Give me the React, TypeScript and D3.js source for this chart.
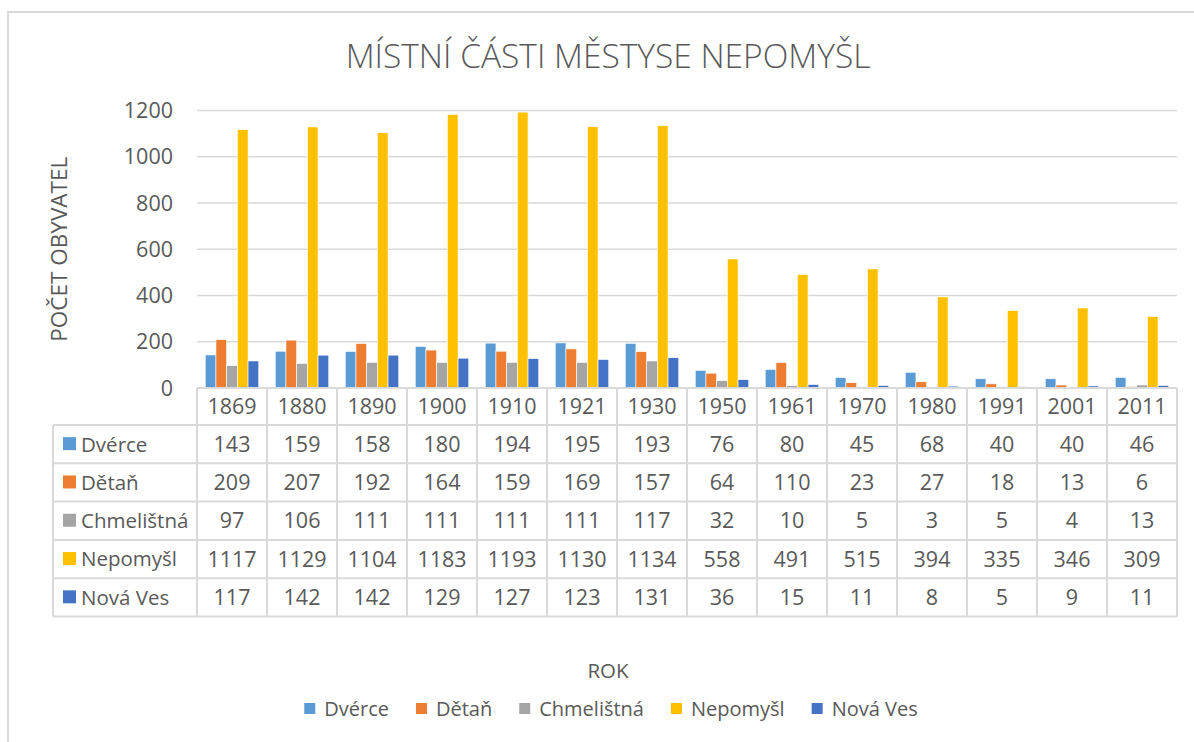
import { useEffect, useRef } from "react";
import * as d3 from "d3";

// data
const years = ["1869", "1880", "1890", "1900", "1910", "1921", "1930", "1950", "1961", "1970", "1980", "1991", "2001", "2011"];
const seriesNames = ["Dvérce", "Dětaň", "Chmelištná", "Nepomyšl", "Nová Ves"];
const dvirce = [143, 159, 158, 180, 194, 195, 193, 76, 80, 45, 68, 40, 40, 46];
const detan = [209, 207, 192, 164, 159, 169, 157, 64, 110, 23, 27, 18, 13, 6];
const chmelistna = [97, 106, 111, 111, 111, 111, 117, 32, 10, 5, 3, 5, 4, 13];
const nepomysl = [1117, 1129, 1104, 1183, 1193, 1130, 1134, 558, 491, 515, 394, 335, 346, 309];
const novaVes = [117, 142, 142, 129, 127, 123, 131, 36, 15, 11, 8, 5, 9, 11];
const yTicks = [0, 200, 400, 600, 800, 1000, 1200];
const colors = ["#5B9BD5", "#ED7D31", "#A5A5A5", "#FFC000", "#4472C4"];

const seriesValues = [dvirce, detan, chmelistna, nepomysl, novaVes];

const App = () => {
  const svgRef = useRef<SVGSVGElement>(null);

  useEffect(() => {
    const width = 1194;
    const height = 742;
    const font = "'Open Sans', sans-serif";
    const textColor = "#595959";
    const lineColor = "#D9D9D9";
    const plot = { left: 197, right: 1177, top: 110.5, bottom: 388 };
    const rowH = 38.3;
    const headerBottom = 425;
    const labelLeft = 53;
    const numSize = 21.5;
    const labelSize = 20.5;

    const svg = d3.select(svgRef.current)
      .attr("width", width)
      .attr("height", height)
      .style("background", "#fff");
    svg.selectAll("*").remove();

    // outer chart border
    svg.append("rect")
      .attr("x", 8).attr("y", 12)
      .attr("width", 1210).attr("height", 760)
      .attr("fill", "none").attr("stroke", lineColor).attr("stroke-width", 2);

    svg.append("text")
      .attr("x", 608).attr("y", 68)
      .attr("text-anchor", "middle")
      .attr("font-family", font).attr("font-size", 33.5).attr("font-weight", 300)
      .attr("fill", textColor)
      .text("MÍSTNÍ ČÁSTI MĚSTYSE NEPOMYŠL");

    const x = d3.scaleBand<string>().domain(years).range([plot.left, plot.right]).padding(0);
    const xInner = d3.scaleBand<number>()
      .domain(d3.range(seriesNames.length))
      .range([8.25, x.bandwidth() - 8.25])
      .padding(0);
    const y = d3.scaleLinear().domain([0, 1200]).range([plot.bottom, plot.top]);

    // gridlines
    svg.append("g")
      .selectAll("line")
      .data(yTicks.filter((t) => t > 0))
      .join("line")
      .attr("x1", plot.left).attr("x2", plot.right)
      .attr("y1", (d) => y(d)).attr("y2", (d) => y(d))
      .attr("stroke", lineColor).attr("stroke-width", 1.5);

    // y tick labels
    svg.append("g")
      .selectAll("text")
      .data(yTicks)
      .join("text")
      .attr("x", 173).attr("y", (d) => y(d))
      .attr("dy", "0.35em")
      .attr("text-anchor", "end")
      .attr("font-family", font).attr("font-size", numSize)
      .attr("fill", textColor)
      .text((d) => d);

    svg.append("text")
      .attr("transform", `translate(67,${(plot.top + plot.bottom) / 2}) rotate(-90)`)
      .attr("text-anchor", "middle")
      .attr("font-family", font).attr("font-size", 22.5)
      .attr("fill", textColor)
      .text("POČET OBYVATEL");

    // bars
    const bars = svg.append("g");
    seriesValues.forEach((vals, si) => {
      bars.append("g")
        .selectAll("rect")
        .data(vals)
        .join("rect")
        .attr("x", (_, i) => (x(years[i]) ?? 0) + (xInner(si) ?? 0))
        .attr("y", (d) => y(d))
        .attr("width", xInner.bandwidth())
        .attr("height", (d) => y(0) - y(d))
        .attr("fill", colors[si])
        .attr("stroke", "#fff").attr("stroke-width", 0.6);
    });

    // data table
    const table = svg.append("g")
      .attr("stroke", lineColor).attr("stroke-width", 2).attr("fill", "none");
    const tableBottom = headerBottom + rowH * seriesNames.length;
    table.append("line")
      .attr("x1", plot.left).attr("x2", plot.right)
      .attr("y1", plot.bottom).attr("y2", plot.bottom);
    d3.range(seriesNames.length + 1).forEach((r) => {
      const yy = headerBottom + r * rowH;
      table.append("line")
        .attr("x1", labelLeft).attr("x2", plot.right)
        .attr("y1", yy).attr("y2", yy);
    });
    table.append("line")
      .attr("x1", labelLeft).attr("x2", labelLeft)
      .attr("y1", headerBottom).attr("y2", tableBottom);
    table.selectAll("line.col")
      .data([...years, "end"])
      .join("line")
      .attr("class", "col")
      .attr("x1", (d) => (d === "end" ? plot.right : x(d) ?? 0))
      .attr("x2", (d) => (d === "end" ? plot.right : x(d) ?? 0))
      .attr("y1", plot.bottom).attr("y2", tableBottom);

    svg.append("g")
      .selectAll("text")
      .data(years)
      .join("text")
      .attr("x", (d) => (x(d) ?? 0) + x.bandwidth() / 2)
      .attr("y", (plot.bottom + headerBottom) / 2)
      .attr("dy", "0.36em")
      .attr("text-anchor", "middle")
      .attr("font-family", font).attr("font-size", numSize)
      .attr("fill", textColor)
      .text((d) => d);

    seriesValues.forEach((vals, si) => {
      const cy = headerBottom + rowH * si + rowH / 2;
      const row = svg.append("g");
      row.append("rect")
        .attr("x", 63).attr("y", cy - 7)
        .attr("width", 13).attr("height", 13)
        .attr("fill", colors[si]);
      row.append("text")
        .attr("x", 81).attr("y", cy).attr("dy", "0.36em")
        .attr("font-family", font).attr("font-size", labelSize)
        .attr("fill", textColor)
        .text(seriesNames[si]);
      row.selectAll("text.v")
        .data(vals)
        .join("text")
        .attr("class", "v")
        .attr("x", (_, i) => (x(years[i]) ?? 0) + x.bandwidth() / 2)
        .attr("y", cy).attr("dy", "0.36em")
        .attr("text-anchor", "middle")
        .attr("font-family", font).attr("font-size", numSize)
        .attr("fill", textColor)
        .text((d) => d);
    });

    svg.append("text")
      .attr("x", 608).attr("y", 678)
      .attr("text-anchor", "middle")
      .attr("font-family", font).attr("font-size", 20.5)
      .attr("fill", textColor)
      .text("ROK");

    // legend, centred under the chart
    const legend = svg.append("g");
    let cursor = 0;
    seriesNames.forEach((name, si) => {
      const item = legend.append("g").attr("transform", `translate(${cursor},0)`);
      item.append("rect")
        .attr("x", 0).attr("y", -6)
        .attr("width", 11).attr("height", 11)
        .attr("fill", colors[si]);
      const t = item.append("text")
        .attr("x", 20).attr("dy", "0.36em")
        .attr("font-family", font).attr("font-size", 20)
        .attr("fill", textColor)
        .text(name);
      const w = (t.node() as SVGTextElement).getComputedTextLength();
      cursor += 20 + w + 27;
    });
    const legendW = cursor - 27;
    legend.attr("transform", `translate(${611 - legendW / 2},709)`);
  }, []);

  return (
    <svg ref={svgRef} style={{ position: "absolute", left: 0, top: 0, display: "block" }} />
  );
};

export default App;
